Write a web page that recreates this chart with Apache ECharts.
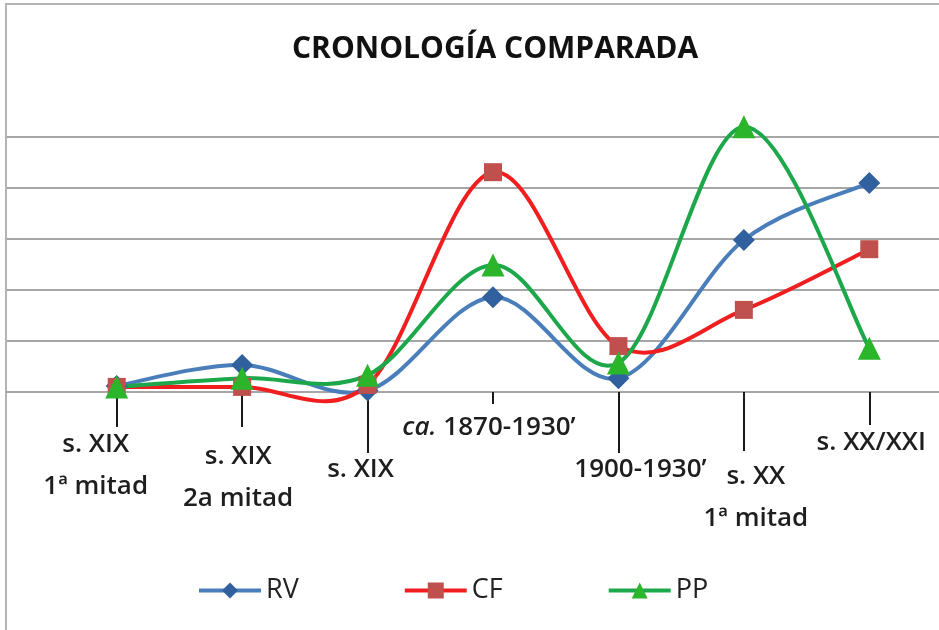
<!DOCTYPE html>
<html>
<head>
<meta charset="utf-8">
<script src="https://cdn.jsdelivr.net/npm/echarts@6/dist/echarts.min.js"></script>
<style>
  html, body { margin: 0; padding: 0; background: #fff; }
  #chart { width: 939px; height: 630px; }
</style>
</head>
<body>
<div id="chart"></div>
<script>
// categories (periods) and series values
const categories = ['s. XIX\n1ª mitad', 's. XIX\n2a mitad', 's. XIX', 'ca. 1870-1930’', '1900-1930’', 's. XX\n1ª mitad', 's. XX/XXI']
const rv = [0.12, 0.53, 0.03, 1.86, 0.27, 2.98, 4.1]
const cf = [0.1, 0.1, 0.14, 4.31, 0.9, 1.61, 2.8]
const pp = [0.1, 0.27, 0.33, 2.49, 0.57, 5.2, 0.86]
const yTicks = [0, 1, 2, 3, 4, 5]

// leader tick length / label placement for each category (layout only)
const tickLen = [35, 35, 61, 12, 61, 59, 33]
const labelTop = [424, 436, 449, 407, 449, 456, 422]
const labelDx = [-21, -4, -7, -4, 22, 12, 2]

const font = 'Open Sans'
const axisY = 392

const colors = {
  RV: { line: '#4a7ebb', mark: '#30609e' },
  CF: { line: '#f01e1e', mark: '#c0504d' },
  PP: { line: '#1ca84a', mark: '#2bb52b' }
}

const myChart = echarts.init(document.getElementById('chart'))

// one x axis per category so every label can sit at its own depth
const labelAxes = categories.map((c, k) => ({
  type: 'category',
  gridIndex: 1,
  position: 'bottom',
  data: categories,
  boundaryGap: true,
  axisLine: { show: false },
  axisTick: {
    show: true,
    alignWithLabel: true,
    length: tickLen[k],
    interval: (i) => i === k,
    lineStyle: { color: '#1a1a1a', width: 2 }
  },
  axisLabel: {
    interval: (i) => i === k,
    margin: labelTop[k] - axisY,
    fontFamily: font,
    fontSize: 26,
    fontWeight: 600,
    color: '#1e1e1e',
    lineHeight: 42,
    padding: labelDx[k] > 0 ? [0, 0, 0, 2 * labelDx[k]] : [0, -2 * labelDx[k], 0, 0],
    formatter: (v) => v.indexOf('ca. ') === 0 ? '{it|ca.} ' + v.slice(4) : v,
    rich: {
      it: { fontStyle: 'italic', fontFamily: font, fontSize: 26, fontWeight: 600, color: '#1e1e1e', lineHeight: 42 }
    }
  },
  splitLine: { show: false }
}))

// smoothed line (Excel style curve) drawn through the axis coordinates
function curve(name, vals) {
  return {
    name: name + '-curve',
    type: 'custom',
    xAxisIndex: 1,
    yAxisIndex: 1,
    silent: true,
    z: 2,
    data: vals.map((v, i) => [i, v]),
    renderItem: (params, api) => {
      if (params.dataIndex !== 0) return null
      const pts = vals.map((v, i) => api.coord([i, v]))
      const n = pts.length
      const children = []
      for (let i = 0; i < n - 1; i++) {
        const p0 = pts[Math.max(i - 1, 0)]
        const p1 = pts[i]
        const p2 = pts[i + 1]
        const p3 = pts[Math.min(i + 2, n - 1)]
        children.push({
          type: 'bezierCurve',
          shape: {
            x1: p1[0], y1: p1[1],
            cpx1: p1[0] + (p2[0] - p0[0]) / 6, cpy1: p1[1] + (p2[1] - p0[1]) / 6,
            cpx2: p2[0] - (p3[0] - p1[0]) / 6, cpy2: p2[1] - (p3[1] - p1[1]) / 6,
            x2: p2[0], y2: p2[1]
          },
          style: { fill: null, stroke: colors[name].line, lineWidth: 4, lineCap: 'round' }
        })
      }
      return { type: 'group', children: children }
    }
  }
}

// markers only; the curve comes from the custom series above
function marks(name, vals, symbol, size, z) {
  return {
    name: name,
    type: 'line',
    xAxisIndex: 1,
    yAxisIndex: 1,
    data: vals,
    clip: false,
    z: z,
    symbol: symbol,
    symbolSize: size,
    lineStyle: { color: colors[name].line, width: 4, opacity: 0 },
    itemStyle: { color: colors[name].mark }
  }
}

const option = {
  backgroundColor: '#fff',
  title: {
    text: 'CRONOLOGÍA COMPARADA',
    left: 287,
    top: 29,
    textStyle: { fontFamily: font, fontSize: 30, fontWeight: 'bold', color: '#111' }
  },
  legend: {
    data: ['RV', 'CF', 'PP'].map((n) => ({
      name: n,
      lineStyle: { color: colors[n].line, width: 4, opacity: 1 }
    })),
    left: 192,
    top: 572,
    itemWidth: 62,
    itemHeight: 20,
    itemGap: 104,
    textStyle: { fontFamily: font, fontSize: 27, color: '#222' }
  },
  graphic: [{
    type: 'rect',
    shape: { x: 6, y: 4, width: 1000, height: 1000 },
    style: { fill: 'none', stroke: '#b4b4b4', lineWidth: 2 },
    silent: true
  }],
  grid: [
    { left: 7, right: 0, top: 137, bottom: 630 - axisY },
    { left: 54, right: 7, top: 137, bottom: 630 - axisY }
  ],
  xAxis: [
    {
      type: 'category',
      gridIndex: 0,
      data: categories,
      axisLine: { show: true, lineStyle: { color: '#a6a6a6', width: 2 } },
      axisTick: { show: false },
      axisLabel: { show: false }
    }
  ].concat(labelAxes),
  yAxis: [
    {
      type: 'value',
      gridIndex: 0,
      min: yTicks[0],
      max: yTicks[yTicks.length - 1],
      interval: 1,
      axisLine: { show: false },
      axisTick: { show: false },
      axisLabel: { show: false },
      splitLine: { lineStyle: { color: '#a6a6a6', width: 2 } }
    },
    {
      type: 'value',
      gridIndex: 1,
      min: yTicks[0],
      max: yTicks[yTicks.length - 1],
      interval: 1,
      show: false
    }
  ],
  series: [
    curve('RV', rv),
    curve('CF', cf),
    curve('PP', pp),
    marks('RV', rv, 'diamond', 22, 3),
    marks('CF', cf, 'rect', 18, 4),
    marks('PP', pp, 'triangle', 23, 5)
  ]
}

myChart.setOption(option)
window.onresize = () => { myChart.resize() }
</script>
</body>
</html>
